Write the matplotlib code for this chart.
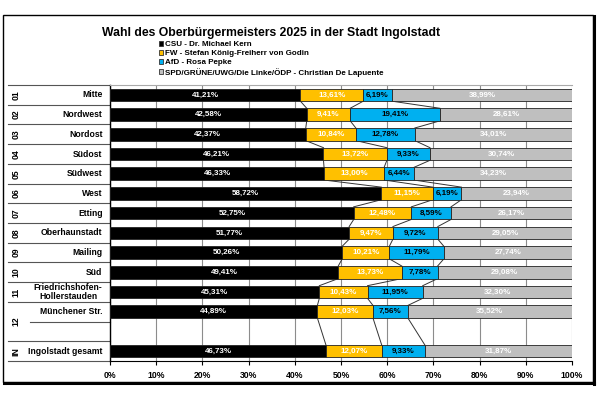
import matplotlib.pyplot as plt
import matplotlib.transforms as mtransforms
from matplotlib.patches import Patch, Rectangle
from matplotlib.lines import Line2D
import numpy as np

plt.rcParams['font.family'] = ['Liberation Sans', 'DejaVu Sans']

# data
bezirke = ["Mitte", "Nordwest", "Nordost", "Südost", "Südwest", "West", "Etting",
           "Oberhaunstadt", "Mailing", "Süd", "Friedrichshofen-\nHollerstauden",
           "Münchener Str.", "", "Ingolstadt gesamt"]
gruppen = ["01", "02", "03", "04", "05", "06", "07", "08", "09", "10", "11", "12", "IN"]
gruppen_pos = [0, 1, 2, 3, 4, 5, 6, 7, 8, 9, 10, 11.5, 13]

csu = [41.21, 42.58, 42.37, 46.21, 46.33, 58.72, 52.75, 51.77, 50.26, 49.41, 45.31, 44.89, None, 46.73]
fw = [13.61, 9.41, 10.84, 13.72, 13.00, 11.15, 12.48, 9.47, 10.21, 13.73, 10.43, 12.03, None, 12.07]
afd = [6.19, 19.41, 12.78, 9.33, 6.44, 6.19, 8.59, 9.72, 11.79, 7.78, 11.95, 7.56, None, 9.33]
spd = [38.99, 28.61, 34.01, 30.74, 34.23, 23.94, 26.17, 29.05, 27.74, 29.08, 32.30, 35.52, None, 31.87]

kandidaten = ["CSU - Dr. Michael Kern", "FW - Stefan König-Freiherr von Godin",
              "AfD - Rosa Pepke", "SPD/GRÜNE/UWG/Die Linke/ÖDP - Christian De Lapuente"]
farben = ["#000000", "#FFC000", "#00B0F0", "#BFBFBF"]
textfarben = ["white", "white", "black", "white"]

fig = plt.figure(figsize=(6, 4), dpi=100)
ax = fig.add_axes([110 / 600, 1 - 361 / 400, 462 / 600, 276 / 400])

h = 0.64
reihen = [i for i in range(len(bezirke)) if csu[i] is not None]
serien = [csu, fw, afd, spd]
for i in reihen:
    links = 0
    for k, s in enumerate(serien):
        ax.barh(i, s[i], left=links, height=h, color=farben[k], edgecolor="#222222", linewidth=0.6, zorder=3)
        ax.text(links + s[i] / 2, i, f"{s[i]:.2f}%".replace(".", ","), ha="center", va="center",
                fontsize=5.8, fontweight="bold", color=textfarben[k], zorder=4)
        links += s[i]

# Reihenverbindungslinien
for a, b in zip(reihen[:-1], reihen[1:]):
    ca = np.cumsum([csu[a], fw[a], afd[a]])
    cb = np.cumsum([csu[b], fw[b], afd[b]])
    for x1, x2 in zip(ca, cb):
        ax.plot([x1, x2], [a + h / 2, b - h / 2], color="#333333", lw=0.7, zorder=2)

ax.set_xlim(0, 100)
ax.set_ylim(len(bezirke) - 0.5, -0.5)
ax.set_xticks(np.arange(0, 101, 10))
ax.set_xticklabels([f"{v}%" for v in range(0, 101, 10)], fontsize=6.2, fontweight="bold")
ax.set_yticks([])
ax.grid(axis="x", color="#8c8c8c", lw=0.8, zorder=0)
ax.tick_params(axis="x", length=3, width=0.8, pad=4)
ax.spines["right"].set_visible(False)
ax.spines["top"].set_color("#aaaaaa")
ax.spines["top"].set_linewidth(0.8)
ax.spines["left"].set_linewidth(1.0)
ax.spines["bottom"].set_linewidth(0.8)

# Beschriftung der Kategorien
trans = mtransforms.blended_transform_factory(ax.transAxes, ax.transData)
for i, name in enumerate(bezirke):
    ax.text(-0.016, i, name, transform=trans, ha="right", va="center", multialignment="center",
            fontsize=6.2, fontweight="bold", linespacing=1.1)
for g, p in zip(gruppen, gruppen_pos):
    ax.text(-0.2035, p, g, transform=trans, ha="center", va="center", rotation=90,
            fontsize=6.2, fontweight="bold")
for yb in np.arange(-0.5, len(bezirke), 1.0):
    x0 = (30 - 110) / 462 if yb == 11.5 else (8 - 110) / 462
    ax.plot([x0, 0], [yb, yb], transform=trans, color="#555555", lw=0.8, clip_on=False)

# Titel und Legende
fig.text(271 / 600, 1 - 33 / 400, "Wahl des Oberbürgermeisters 2025 in der Stadt Ingolstadt",
         ha="center", va="center", fontsize=8.8, fontweight="bold")
handles = [Patch(facecolor=c, edgecolor="#333333", linewidth=0.6) for c in farben]
fig.legend(handles, kandidaten, loc="upper left", bbox_to_anchor=(159 / 600, 1 - 41 / 400),
           frameon=False, handlelength=0.55, handleheight=0.55, handletextpad=0.2,
           labelspacing=0.2, borderpad=0, borderaxespad=0,
           prop={"weight": "bold", "size": 5.8})

# Rahmen
fig.add_artist(Rectangle((3 / 600, 1 - 382 / 400), 590 / 600, 367 / 400, transform=fig.transFigure,
                         fill=False, edgecolor="black", lw=1.0))
fig.add_artist(Line2D([594 / 600, 594 / 600], [1 - 384 / 400, 1 - 16 / 400], transform=fig.transFigure,
                      color="black", lw=2.2))
fig.add_artist(Line2D([4 / 600, 594 / 600], [1 - 383 / 400, 1 - 383 / 400], transform=fig.transFigure,
                      color="black", lw=2.2))

fig.savefig("out.png", dpi=100)
